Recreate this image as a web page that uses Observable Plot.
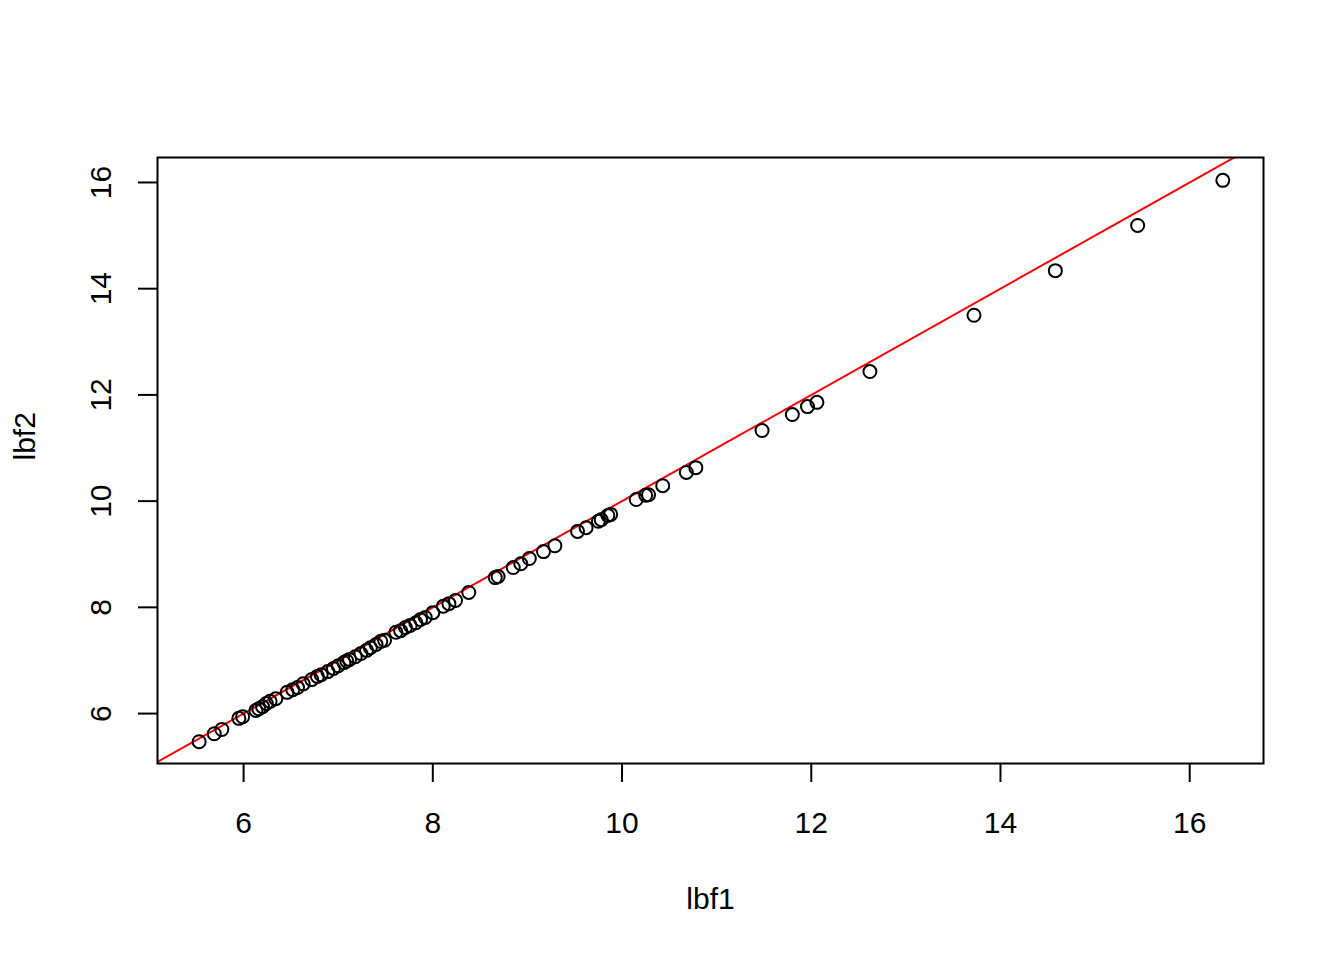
<!DOCTYPE html>
<html>
<head>
<meta charset="utf-8">
<script src="https://cdn.jsdelivr.net/npm/d3@7"></script>
<script src="https://cdn.jsdelivr.net/npm/@observablehq/plot@0.6"></script>
<style>
  html, body { margin: 0; padding: 0; background: #fff; }
  #chart { width: 1344px; height: 960px; }
  svg { font-family: "Liberation Sans", Arial, Helvetica, sans-serif; }
</style>
</head>
<body>
<div id="chart"></div>
<script>
const lbf1 = [5.53, 5.69, 5.77, 5.95, 5.99, 6.13, 6.16, 6.20, 6.24, 6.28, 6.34, 6.46, 6.52, 6.57, 6.63,
  6.72, 6.78, 6.82, 6.89, 6.95, 7.00, 7.06, 7.09, 7.12, 7.18, 7.24, 7.30, 7.34, 7.40, 7.45, 7.49,
  7.61, 7.66, 7.71, 7.76, 7.82, 7.87, 7.92, 8.00, 8.11, 8.17, 8.24, 8.38,
  8.66, 8.69, 8.85, 8.93, 9.02, 9.17, 9.29, 9.53, 9.62, 9.75, 9.78, 9.85, 9.88,
  10.15, 10.25, 10.28, 10.43, 10.68, 10.78, 11.48, 11.80, 11.96, 12.06, 12.62, 13.72, 14.58, 15.45, 16.35];
const lbf2 = [5.47, 5.62, 5.70, 5.91, 5.94, 6.06, 6.09, 6.13, 6.19, 6.23, 6.28, 6.40, 6.45, 6.49, 6.56,
  6.64, 6.70, 6.73, 6.79, 6.85, 6.90, 6.96, 6.99, 7.02, 7.07, 7.13, 7.19, 7.24, 7.30, 7.36, 7.38,
  7.53, 7.56, 7.62, 7.66, 7.71, 7.77, 7.81, 7.90, 8.02, 8.07, 8.13, 8.28,
  8.56, 8.58, 8.75, 8.82, 8.92, 9.05, 9.16, 9.43, 9.50, 9.62, 9.65, 9.73, 9.75,
  10.03, 10.11, 10.12, 10.29, 10.54, 10.63, 11.33, 11.63, 11.78, 11.86, 12.44, 13.50, 14.34, 15.19, 16.04];
const xTicks = [6, 8, 10, 12, 14, 16];
const yTicks = [6, 8, 10, 12, 14, 16];
const abline = { intercept: 0, slope: 1 };
const xLabel = "lbf1";
const yLabel = "lbf2";

const points = lbf1.map((x, i) => ({ x, y: lbf2[i] }));
const xDomain = [5.09, 16.78];
const yDomain = [5.06, 16.47];
const lineData = xDomain.map(x => ({ x, y: abline.intercept + abline.slope * x }));
const FS = 30;

const chart = Plot.plot({
  width: 1344,
  height: 960,
  marginLeft: 157,
  marginRight: 81,
  marginTop: 157,
  marginBottom: 197,
  style: { fontFamily: '"Liberation Sans", Arial, Helvetica, sans-serif', background: "#fff" },
  x: { domain: xDomain },
  y: { domain: yDomain },
  marks: [
    Plot.axisX({ ticks: xTicks, tickSize: 19, tickPadding: 29, fontSize: FS, tickFormat: d => String(d), label: null, stroke: "black", strokeWidth: 2, color: "black" }),
    Plot.axisY({ ticks: yTicks, tickSize: 19, tickFormat: () => "", label: null, stroke: "black", strokeWidth: 2 }),
    Plot.text(yTicks, { y: d => d, text: d => String(d), frameAnchor: "left", dx: -56, rotate: -90, textAnchor: "middle", lineAnchor: "middle", fontSize: FS, fill: "black" }),
    Plot.line(lineData, { x: "x", y: "y", stroke: "#ff0000", strokeWidth: 2, clip: true }),
    Plot.dot(points, { x: "x", y: "y", r: 6.5, stroke: "black", fill: "none", strokeWidth: 2 }),
    Plot.frame({ stroke: "black", strokeWidth: 2 }),
    Plot.text([xLabel], { text: d => d, frameAnchor: "bottom", dy: 136, fontSize: FS, fill: "black", lineAnchor: "middle" }),
    Plot.text([yLabel], { text: d => d, frameAnchor: "left", dx: -132, rotate: -90, fontSize: FS, fill: "black", lineAnchor: "middle" })
  ]
});
document.getElementById("chart").appendChild(chart);
</script>
</body>
</html>
